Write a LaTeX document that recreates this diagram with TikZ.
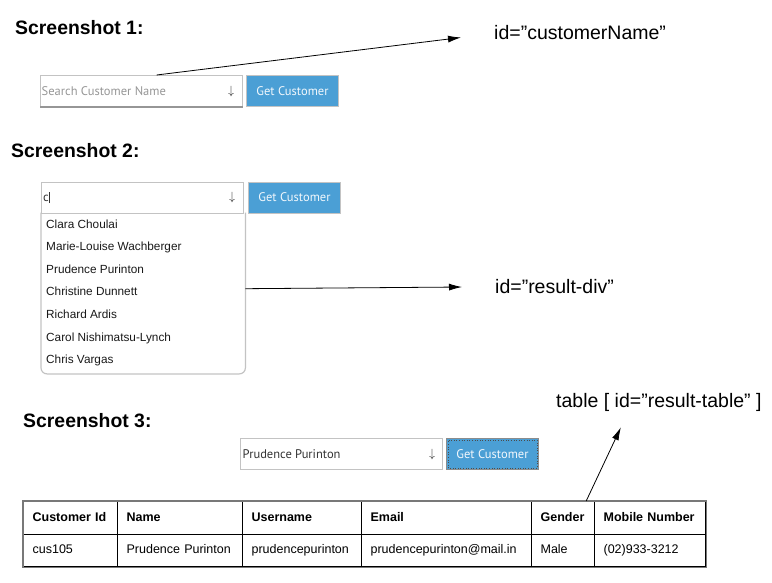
\documentclass[tikz,border=0pt]{standalone}
\usepackage{fontspec}
\setmainfont{Liberation Sans}
\newfontfamily\uifont{PT Sans}
\usetikzlibrary{arrows.meta,positioning}
\definecolor{btnblue}{RGB}{75,159,213}
\definecolor{boxgrey}{RGB}{195,195,195}
\definecolor{hintgrey}{RGB}{150,150,150}
\definecolor{framegrey}{RGB}{120,120,120}
\tikzset{
  title/.style={anchor=west, inner sep=0, font=\fontsize{19.4}{22}\selectfont\bfseries},
  idlabel/.style={anchor=west, inner sep=0, font=\fontsize{19.5}{22}\selectfont},
  inputbox/.style={draw=boxgrey, line width=1.2pt, anchor=north west, minimum width=202pt, minimum height=31pt, inner sep=0},
  button/.style={fill=btnblue, draw=boxgrey, line width=1pt, anchor=north west, minimum width=92pt, minimum height=31pt, inner sep=0, text=white!92!btnblue, font=\uifont\fontsize{12.5}{14}\selectfont},
  uitext/.style={anchor=west, inner sep=0, font=\uifont\fontsize{12.5}{14}\selectfont},
  droparrow/.style={inner sep=0, text=black!85, font=\large},
  item/.style={anchor=west, inner sep=0, text height=8.5pt, text depth=2.5pt, text=black!90, font=\fontsize{11.8}{13}\selectfont},
  cell/.style={draw=black, line width=1.2pt, anchor=north west, minimum height=32.5pt, inner xsep=9pt, inner ysep=0, text height=9pt, text depth=2.5pt, align=left, font=\fontsize{12.5}{14}\selectfont},
  pointer/.style={line width=0.8pt, -{Latex[length=13pt,width=7pt]}}
}
\begin{document}
\begin{tikzpicture}[x=1pt, y=-1pt]
\useasboundingbox (0,0) rectangle (772,582);
%%% Screenshot 1 %%%
\node[title] (t1) at (15,28) {Screenshot 1:};
\node[inputbox] (search1) at (40,75) {};
\draw[hintgrey, line width=2pt] ([yshift=0.5pt]search1.south west) -- ([yshift=0.5pt]search1.south east);
\node[uitext, text=hintgrey] (hint1) at ([xshift=1.5pt]search1.west) {Search Customer Name};
\node[droparrow] (down1) at ([xshift=-12pt]search1.east) {$\downarrow$};
\node[button] (btn1) at (246,75) {Get Customer};
\node[idlabel] (lbl1) at (494,33) {id=”customerName”};
\draw[pointer] ([xshift=15pt]search1.north) -- ([xshift=-33pt,yshift=-4.5pt]lbl1.west);

%%% Screenshot 2 %%%
\node[title] (t2) at (11,151) {Screenshot 2:};
\node[inputbox] (search2) at (41,181.5) {};
\node[uitext, text=black!80] (typed2) at ([xshift=2pt]search2.west) {c\rule[-1.5pt]{0.6pt}{11pt}};
\node[droparrow] (down2) at ([xshift=-12pt]search2.east) {$\downarrow$};
\node[button] (btn2) at (248,181.5) {Get Customer};
%% dropdown list
\node[anchor=north west, minimum width=204pt, minimum height=161pt, inner sep=0] (drop) at (41,212.5) {};
\draw[boxgrey, line width=1.2pt, rounded corners=6pt] (drop.north west) -- (drop.south west) -- (drop.south east) -- (drop.north east);
\foreach \n [count=\i] in {Clara Choulai, Marie-Louise Wachberger, Prudence Purinton, Christine Dunnett, Richard Ardis, Carol Nishimatsu-Lynch, Chris Vargas}
  \node[item] (it\i) at (46,{202.4+22.6*\i}) {\n};
\node[idlabel] (lbl2) at (495,287) {id=”result-div”};
\draw[pointer] ([yshift=4.5pt]drop.east) -- ([xshift=-33pt]lbl2.west);

%%% Screenshot 3 %%%
\node[title] (t3) at (23,421) {Screenshot 3:};
\node[idlabel] (lblt) at (556,402) {table [ id=”result-table” ]};
\node[inputbox] (search3) at (240,438) {};
\node[uitext, text=black!80] (typed3) at ([xshift=2.5pt]search3.west) {Prudence Purinton};
\node[droparrow] (down3) at ([xshift=-11pt]search3.east) {$\downarrow$};
\node[button, draw=black!45] (btn3) at (446,438) {Get Customer};
\draw[black!70, dotted, line width=0.6pt] ([xshift=2pt,yshift=2pt]btn3.south west) rectangle ([xshift=-2pt,yshift=-2pt]btn3.north east);
%% result table
\foreach \x/\w/\h/\d [count=\i] in {23/94/Customer Id/cus105, 117/125/Name/Prudence Purinton, 242/119/Username/prudencepurinton, 361/170/Email/prudencepurinton@mail.in, 531/63/Gender/Male, 594/111/Mobile Number/{(02)933-3212}}
{
  \pgfmathsetmacro{\tw}{\w-18}
  \node[cell, text width=\tw pt] (h\i) at (\x,501) {\textbf{\h}};
  \node[cell, text width=\tw pt] (d\i) at (\x,533.5) {\d};
}
\draw[framegrey, line width=1.2pt] (h1.north west) rectangle (d6.south east);
\draw[pointer] ([xshift=-9pt]h5.north east) -- ([xshift=-38pt,yshift=-16pt]lblt.south);
\end{tikzpicture}
\end{document}
